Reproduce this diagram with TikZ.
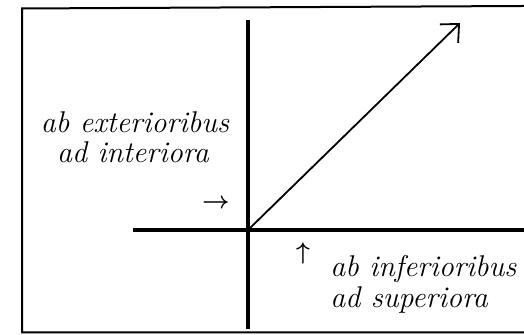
\documentclass[tikz,border=0pt]{standalone}
\usepackage{amsmath, amssymb}
\usepackage{tikz}
\usetikzlibrary{arrows.meta, positioning, calc}

\tikzset{
  lbl/.style={font=\fontsize{15}{15}\selectfont\itshape, inner sep=0pt, align=center},
  axe/.style={line width=2pt},
  cadre/.style={line width=1pt},
  fl/.style={font=\fontsize{13}{13}\selectfont, inner sep=0pt},
}

\begin{document}
\begin{tikzpicture}[x=0.5pt, y=0.5pt]
  \useasboundingbox (0,0) rectangle (524,335);

  % Cadre (sans bord droit)
  \draw[cadre] (524,329) -- (22,326.5) -- (22,2.5) -- (524,2.5);

  % Axes
  \coordinate (O) at (248,105);
  \coordinate (haut) at (248,315);
  \coordinate (bas) at (248,6);
  \coordinate (gauche) at (133,105);
  \coordinate (droite) at (524,105);
  \draw[axe] (bas) -- (haut);
  \draw[axe] (gauche) -- (droite);

  % Diagonale
  \coordinate (pointe) at (460,312);
  \draw[line width=0.9pt, -{Straight Barb[length=7pt, width=13pt]}] (O) -- (pointe);

  % Petites fleches
  \node[fl] (f1) at (216,131) {$\boldsymbol{\rightarrow}$};
  \node[fl] (f2) at (303,81) {$\boldsymbol{\uparrow}$};

  % Textes
  \node[lbl, anchor=base] (ext) at (135,202) {ab exterioribus};
  \node[lbl, anchor=base] (int) at (133,172) {ad interiora};
  \node[lbl, anchor=base west] (inf) at (330,58) {ab inferioribus};
  \node[lbl, anchor=base west] (sup) at (330,27) {ad superiora};
\end{tikzpicture}
\end{document}
